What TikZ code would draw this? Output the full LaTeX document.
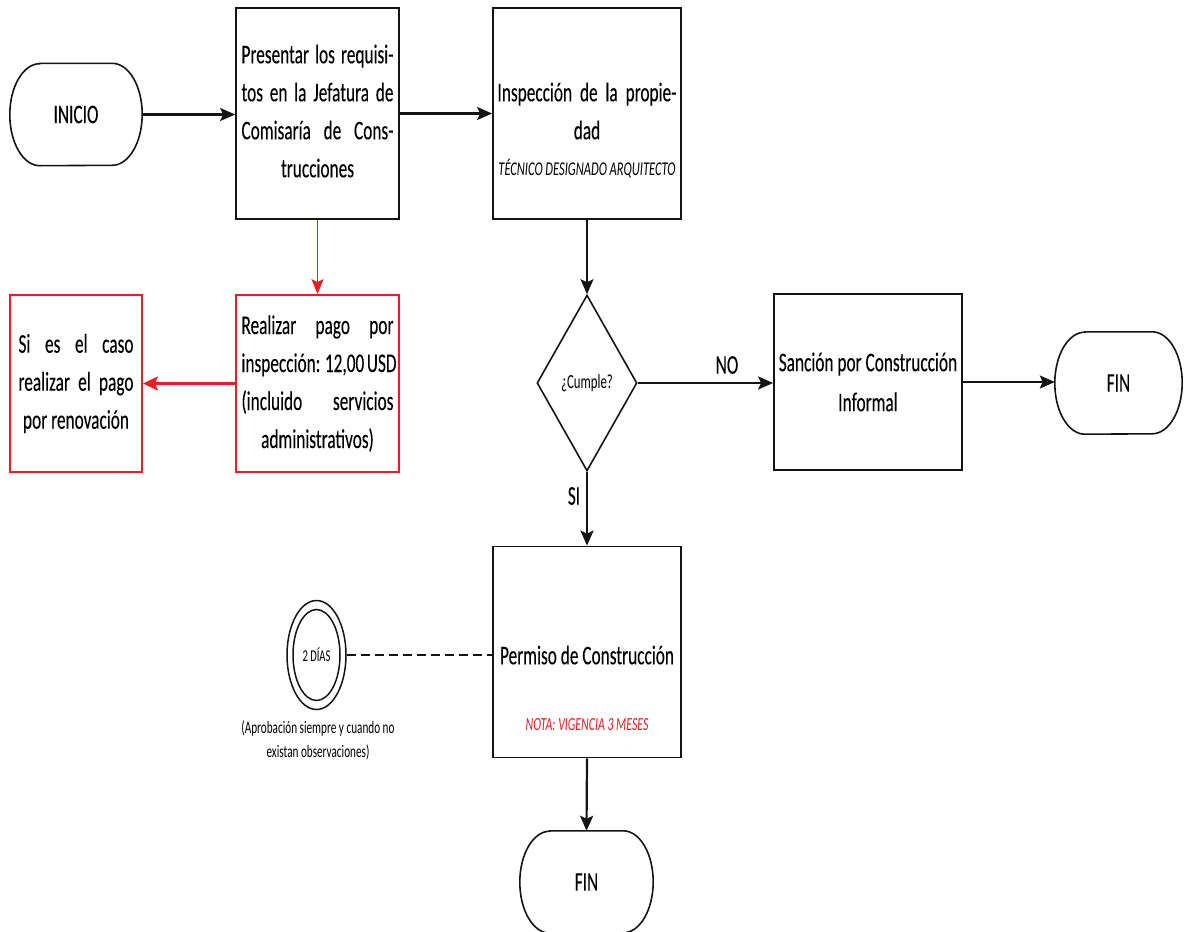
\documentclass[tikz,border=0pt]{standalone}
\usepackage{fontspec}
\setmainfont[FakeStretch=0.64,FakeBold=0.12]{Carlito}
\newfontfamily\lightfont[FakeStretch=0.64]{Carlito}
\usetikzlibrary{arrows.meta,shapes.geometric,calc}

\definecolor{flowred}{RGB}{232,30,36}
\definecolor{ink}{RGB}{20,20,20}

% one justified line of a given width
\newcommand{\jl}[2]{\makebox[#1][s]{#2}}

\begin{document}
\begin{tikzpicture}[x=1pt,y=-1pt,
  big/.style={font=\fontsize{27}{38}\selectfont},
  box/.style={draw=ink, line width=1.8pt, inner sep=0pt, align=center, big},
  redbox/.style={box, draw=flowred},
  term/.style={inner sep=0pt, align=center, big},
  decision/.style={diamond, draw=ink, line width=1.6pt, inner sep=0pt, aspect=0.57},
  arr/.style={draw=ink, line width=2.2pt, -{Stealth[length=15pt,width=13pt,inset=3pt]}},
  thinred/.style={draw=flowred, line width=1pt, -{Stealth[length=15pt,width=12pt,inset=3pt]}},
  thickred/.style={draw=flowred, line width=3pt, -{Stealth[length=15pt,width=14pt,inset=3pt]}},
]
\useasboundingbox (0,0) rectangle (1187,932);
\clip (0,0) rectangle (1187,932);

% terminal outline: flat top and bottom, elliptical sides
\newcommand{\stadium}[1]{%
  \draw[ink, line width=1.6pt]
    ($(#1.north west)+(30,0)$) -- ($(#1.north east)+(-30,0)$)
    arc[start angle=-90, end angle=90, x radius=30, y radius=51]
    -- ($(#1.south west)+(30,0)$)
    arc[start angle=90, end angle=270, x radius=30, y radius=51] -- cycle;}

% terminals
\node[term, minimum width=132pt, minimum height=102pt] (inicio) at (76,114.5) {INICIO};
\stadium{inicio}
\node[term, minimum width=127pt, minimum height=102pt] (fin1) at (1118.5,383) {FIN};
\stadium{fin1}
\node[term, minimum width=133pt, minimum height=102pt] (fin2) at (586.5,882) {FIN};
\stadium{fin2}

% process boxes
\node[box, minimum width=163pt, minimum height=211pt] (req) at (317.5,113.5) {};
\node[big, align=center, inner sep=0pt] (reqtxt) at (317.5,111) {%
  \jl{152pt}{Presentar los requisi-}\\
  \jl{152pt}{tos en la Jefatura de}\\
  \jl{152pt}{Comisaría de Cons-}\\
  trucciones};

\node[box, minimum width=188pt, minimum height=211pt] (insp) at (587,113.5) {};
\node[big, align=center, inner sep=0pt] (insptxt) at (587,111) {%
  \jl{179pt}{Inspección de la propie-}\\ dad};
\node[font=\lightfont\fontsize{19.5}{22}\selectfont\itshape, inner sep=0pt] (tecnico) at (587,169) {TÉCNICO DESIGNADO ARQUITECTO};

\node[redbox, minimum width=163pt, minimum height=177pt] (pago) at (317.5,383.5) {%
  \jl{152pt}{Realizar pago por}\\
  \jl{152pt}{inspección: 12,00 USD}\\
  \jl{152pt}{(incluido servicios}\\
  administrativos)};

\node[redbox, minimum width=132pt, minimum height=177pt] (renov) at (76,383.5) {%
  \jl{115pt}{Si es el caso}\\
  \jl{115pt}{realizar el pago}\\
  por renovación};

\node[decision, minimum width=100pt, minimum height=176pt] (cumple) at (587,383) {};
\node[font=\lightfont\fontsize{20}{22}\selectfont, inner sep=0pt] (cumpletxt) at (587,383) {¿Cumple?};

\node[box, minimum width=188pt, minimum height=176pt, font=\fontsize{27}{40}\selectfont] (sancion) at (868,382) {%
  Sanción por Construcción\\ Informal};

\node[box, minimum width=188pt, minimum height=211pt] (permiso) at (587,652) {};
\node[big, inner sep=0pt] (permisotxt) at (587,655) {Permiso de Construcción};
\node[font=\lightfont\fontsize{18.5}{22}\selectfont\itshape, text=flowred, inner sep=0pt] (nota) at (587,725) {NOTA: VIGENCIA 3 MESES};

% duration marker
\node[ellipse, draw=ink, line width=1.5pt, minimum width=59pt, minimum height=109pt, inner sep=0pt] (dias) at (316.5,655) {};
\draw[ink, line width=1.5pt] (dias.center) ellipse[x radius=23.5, y radius=45.5];
\node[font=\lightfont\fontsize{16.5}{20}\selectfont, inner sep=0pt] (diastxt) at (dias.center) {2 DÍAS};
\node[font=\lightfont\fontsize{17.5}{24}\selectfont, align=center, inner sep=0pt] (obs) at (318,740) {%
  (Aprobación siempre y cuando no\\ existan observaciones)};

% connectors
\draw[arr] (inicio.east) -- (inicio.east -| req.west);
\draw[arr] (req.east) -- (insp.west);
\draw[arr] (insp.south) -- (cumple.north);
\draw[arr] (cumple.east) -- (cumple.east -| sancion.west);
\draw[arr] (sancion.east) -- (sancion.east -| fin1.west);
\draw[arr] (cumple.south) -- (permiso.north);
\draw[arr] (permiso.south) -- (fin2.north);
\draw[thinred] (req.south) -- (pago.north);
\draw[thickred] (pago.west) -- (renov.east);
\draw[ink, line width=2.2pt, dash pattern=on 9pt off 5pt] (dias.east) -- (dias.east -| permiso.west);

% branch labels
\node[big, inner sep=0pt] (nolbl) at (727,365) {NO};
\node[big, inner sep=0pt] (silbl) at (574,496) {SI};
\end{tikzpicture}
\end{document}
